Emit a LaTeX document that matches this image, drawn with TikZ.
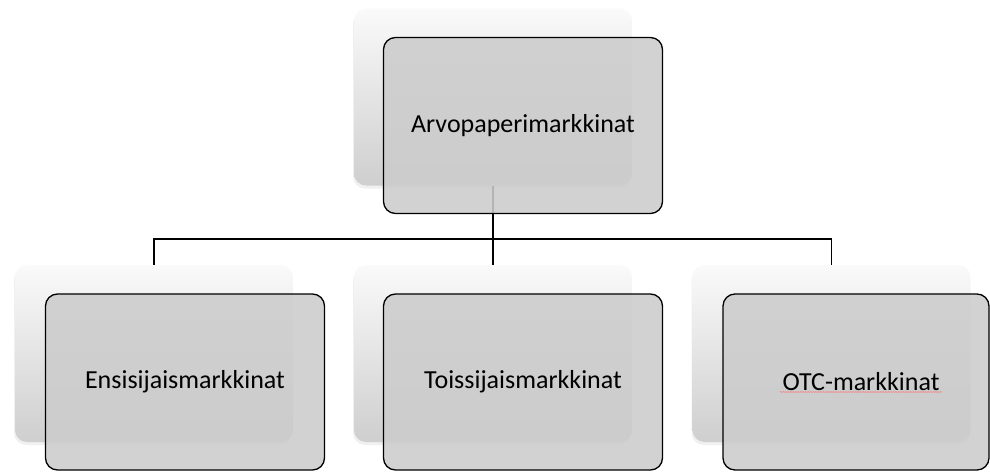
\documentclass[tikz,border=0pt]{standalone}
\usepackage{fontspec}
\setmainfont{Carlito}
\usetikzlibrary{shadows,decorations.pathmorphing}
\tikzset{
  backbox/.style={rectangle, rounded corners=12pt, inner sep=0pt,
    minimum width=278pt, minimum height=177pt,
    top color=black!2, bottom color=black!19,
    drop shadow={opacity=0.12, shadow xshift=-1pt, shadow yshift=-3pt}},
  frontbox/.style={rectangle, rounded corners=12pt, inner sep=0pt,
    draw=black, line width=1.3pt, fill=black!20, fill opacity=0.88, text opacity=1,
    minimum width=279pt, minimum height=176pt,
    font=\fontsize{26}{30}\selectfont},
  link/.style={draw=black, line width=1.3pt}
}
\begin{document}
\begin{tikzpicture}[x=1pt,y=-1pt]
      \useasboundingbox (0,0) rectangle (990,471);
      \path
        (493,97) node[backbox] (rootb){}
        (154,353.5) node[backbox] (ensb){}
        (493,353.5) node[backbox] (toib){}
        (831.5,353.5) node[backbox] (otcb){};
      \coordinate (fork) at (493,239);
      \begin{scope}[link]
        \draw (rootb.south) -- (fork);
        \draw (fork) -| (ensb.north);
        \draw (fork) -- (toib.north);
        \draw (fork) -| (otcb.north);
      \end{scope}
      \path
        (523,125.5) node[frontbox] (root){Arvopaperimarkkinat}
        (185,382) node[frontbox] (ens){Ensisijaismarkkinat}
        (523,382) node[frontbox] (toi){Toissijaismarkkinat}
        (856,382) node[frontbox, minimum width=266pt] (otc){\hspace{10pt}OTC-markkinat};
      \draw[red!55, line width=0.5pt, decorate,
        decoration={snake, amplitude=0.4pt, segment length=2.5pt}]
        ([xshift=-76pt,yshift=-10pt]otc.center) -- ([xshift=86pt,yshift=-10pt]otc.center);
    \end{tikzpicture}
\end{document}
